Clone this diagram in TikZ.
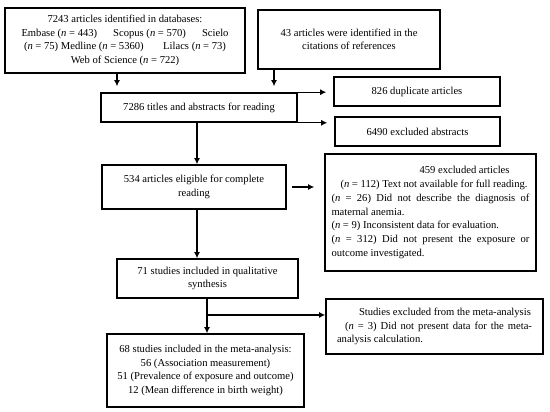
\documentclass[tikz,border=0pt]{standalone}
\usepackage{fontspec}
\setmainfont{Liberation Serif}
\usetikzlibrary{arrows.meta,calc}
\begin{document}
\begin{tikzpicture}[x=1pt,y=-1pt,
  box/.style={draw, line width=1.6pt, inner sep=0pt, align=center,
    font=\fontsize{10.6}{13.5}\selectfont},
  arr/.style={line width=1.2pt, -{Latex[length=6pt,width=6pt]}}]
\useasboundingbox (0,0) rectangle (550,412);
\node[box, minimum width=240pt, minimum height=65pt] (b1) at (125,40.5)
  {7243 articles identified in databases:\\
   \hbox to 207pt{Embase (\textit{n} = 443)\hfill Scopus (\textit{n} = 570)\hfill Scielo}\\
   \hbox to 202pt{(\textit{n} = 75) Medline (\textit{n} = 5360)\hfill Lilacs (\textit{n} = 73)}\\
   Web of Science (\textit{n} = 722)};
\node[box, minimum width=182pt, minimum height=59pt] (b2) at (349,39.5)
  {43 articles were identified in the\\citations of references};
\node[box, minimum width=196pt, minimum height=29pt] (b3) at (199,107.5)
  {7286 titles and abstracts for reading};
\node[box, minimum width=166pt, minimum height=29pt] (d826) at (417,91.5)
  {826 duplicate articles};
\node[box, minimum width=165pt, minimum height=29pt] (d6490) at (417.5,131.5)
  {6490 excluded abstracts};
\node[box, minimum width=184pt, minimum height=44pt] (b4) at (194,187)
  {534 articles eligible for complete\\reading};
\node[box, minimum width=211pt, minimum height=117pt, align=left,
  font=\fontsize{10.6}{13.7}\selectfont] (e459) at (430.5,212.5)
  {\hbox to 198pt{\hspace{88pt}459 excluded articles\hfil}\\
   \hbox to 198pt{\hspace{9pt}(\textit{n} = 112) Text not available for full reading.\hfil}\\
   \hbox to 198pt{(\textit{n} = 26) Did not describe the diagnosis of}\\
   \hbox to 198pt{maternal anemia.\hfil}\\
   \hbox to 198pt{(\textit{n} = 9) Inconsistent data for evaluation.\hfil}\\
   \hbox to 198pt{(\textit{n} = 312) Did not present the exposure or}\\
   \hbox to 198pt{outcome investigated.\hfil}};
\node[box, minimum width=181pt, minimum height=39pt] (b5) at (207.5,278.5)
  {71 studies included in qualitative\\synthesis};
\node[box, minimum width=217pt, minimum height=55pt, align=left] (ex) at (434.5,326.5)
  {\hbox to 195pt{\hspace{22pt}Studies excluded from the meta-analysis\hfil}\\
   \hbox to 195pt{\hspace{8pt}(\textit{n} = 3) Did not present data for the meta-}\\
   \hbox to 195pt{analysis calculation.\hfil}};
\node[box, minimum width=197pt, minimum height=73pt] (b6) at (205.5,370.5)
  {68 studies included in the meta-analysis:\\
   56 (Association measurement)\\
   51 (Prevalence of exposure and outcome)\\
   12 (Mean difference in birth weight)};
\coordinate (c1) at (117,0);
\coordinate (c2) at (274,0);
\coordinate (c3) at (197,0);
\coordinate (c5) at (207,0);
\draw[arr, shorten >=6pt] (b1.south -| c1) -- (b3.north -| c1);
\draw[arr, shorten >=6pt] (b2.south -| c2) -- (b3.north -| c2);
\draw[arr, shorten >=7pt] (b3.north east) -- (b3.north east -| d826.west);
\draw[arr, shorten >=7pt] (b3.south east) -- (b3.south east -| d6490.west);
\draw[arr] (b3.south -| c3) -- (b4.north -| c3);
\draw[arr, shorten <=5pt, shorten >=10pt] (b4.east) -- (b4.east -| e459.west);
\draw[arr] (b4.south -| c3) -- (b5.north -| c3);
\draw[arr] (b5.south -| c5) -- (b6.north -| c5);
\coordinate (j) at ($(b5.south -| c5)!0.47!(b6.north -| c5)$);
\draw[arr] (j) -- (j -| ex.west);
\end{tikzpicture}
\end{document}
